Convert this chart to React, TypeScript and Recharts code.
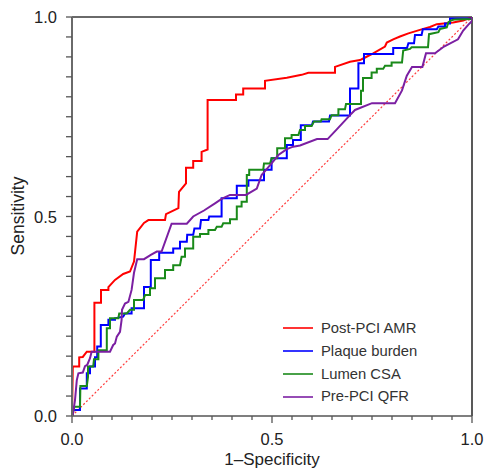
import React from "react";
import { LineChart, Line, XAxis, YAxis, ReferenceLine } from "recharts";

const seriesNames = ["Post-PCI AMR", "Plaque burden", "Lumen CSA", "Pre-PCI QFR"];
const seriesColors = ["#ff0000", "#0000ff", "#1a8a1a", "#7b1fa2"];

const postPciAmr: [number, number][] = [
  [0, 0], [0.002, 0.124], [0.018, 0.124], [0.018, 0.147], [0.027, 0.148], [0.037, 0.161],
  [0.056, 0.161], [0.056, 0.284], [0.0725, 0.284], [0.0725, 0.316], [0.091, 0.316], [0.091, 0.323],
  [0.1075, 0.341], [0.128, 0.356], [0.145, 0.362], [0.155, 0.387], [0.163, 0.462], [0.18, 0.484],
  [0.191, 0.491], [0.2325, 0.491], [0.235, 0.506], [0.266, 0.521], [0.2675, 0.562], [0.285, 0.583],
  [0.285, 0.622], [0.303, 0.622], [0.303, 0.639], [0.324, 0.639], [0.324, 0.662], [0.339, 0.668],
  [0.339, 0.792], [0.41, 0.792], [0.41, 0.806], [0.428, 0.806], [0.428, 0.821], [0.4825, 0.821],
  [0.4825, 0.84], [0.537, 0.848], [0.574, 0.855], [0.591, 0.86], [0.6575, 0.86], [0.6575, 0.875],
  [0.695, 0.888], [0.72, 0.892], [0.728, 0.896], [0.753, 0.909], [0.7825, 0.926], [0.787, 0.936],
  [0.803, 0.944], [0.82, 0.951], [0.841, 0.959], [0.874, 0.969], [0.895, 0.975], [0.912, 0.982],
  [0.953, 0.986], [0.978, 0.991], [1, 1],
];

const plaqueBurden: [number, number][] = [
  [0, 0], [0.002, 0.015], [0.02, 0.015], [0.02, 0.069], [0.037, 0.069], [0.037, 0.107],
  [0.045, 0.107], [0.045, 0.124], [0.0575, 0.124], [0.0575, 0.147], [0.063, 0.147], [0.063, 0.174],
  [0.072, 0.174], [0.072, 0.228], [0.091, 0.228], [0.091, 0.241], [0.1075, 0.241], [0.1075, 0.245],
  [0.128, 0.249], [0.1325, 0.257], [0.149, 0.257], [0.149, 0.27], [0.18, 0.27], [0.18, 0.323],
  [0.197, 0.323], [0.197, 0.391], [0.218, 0.391], [0.218, 0.409], [0.253, 0.409], [0.253, 0.42],
  [0.27, 0.42], [0.27, 0.437], [0.287, 0.437], [0.288, 0.454], [0.303, 0.454], [0.306, 0.47],
  [0.32, 0.47], [0.3225, 0.491], [0.341, 0.491], [0.343, 0.5], [0.374, 0.5], [0.374, 0.546],
  [0.412, 0.546], [0.412, 0.577], [0.441, 0.577], [0.441, 0.591], [0.48, 0.591], [0.48, 0.617],
  [0.499, 0.617], [0.499, 0.646], [0.537, 0.646], [0.537, 0.679], [0.5525, 0.679], [0.5525, 0.692],
  [0.572, 0.692], [0.572, 0.729], [0.6, 0.729], [0.6025, 0.738], [0.6425, 0.738], [0.645, 0.753],
  [0.695, 0.753], [0.695, 0.821], [0.716, 0.821], [0.716, 0.884], [0.73, 0.884], [0.73, 0.907],
  [0.803, 0.907], [0.803, 0.922], [0.8375, 0.922], [0.841, 0.934], [0.855, 0.934], [0.8575, 0.955],
  [0.874, 0.955], [0.877, 0.969], [0.912, 0.969], [0.916, 0.976], [0.9325, 0.976], [0.9325, 0.984],
  [0.945, 0.984], [0.945, 0.996], [1, 0.996], [1, 1],
];

const lumenCsa: [number, number][] = [
  [0, 0], [0.002, 0.007], [0.006, 0.023], [0.02, 0.023], [0.021, 0.075], [0.037, 0.075],
  [0.04, 0.098], [0.04, 0.124], [0.053, 0.124], [0.055, 0.142], [0.066, 0.142], [0.066, 0.165],
  [0.087, 0.165], [0.087, 0.22], [0.095, 0.22], [0.095, 0.245], [0.116, 0.245], [0.118, 0.257],
  [0.137, 0.257], [0.145, 0.266], [0.155, 0.266], [0.155, 0.291], [0.178, 0.291], [0.1825, 0.303],
  [0.195, 0.303], [0.195, 0.32], [0.2075, 0.32], [0.2075, 0.345], [0.2325, 0.345], [0.2325, 0.366],
  [0.253, 0.366], [0.253, 0.378], [0.27, 0.378], [0.274, 0.399], [0.2825, 0.399], [0.2825, 0.42],
  [0.303, 0.42], [0.303, 0.449], [0.32, 0.449], [0.32, 0.456], [0.341, 0.456], [0.341, 0.466],
  [0.3575, 0.466], [0.362, 0.474], [0.374, 0.474], [0.378, 0.483], [0.395, 0.483], [0.395, 0.493],
  [0.412, 0.493], [0.412, 0.525], [0.424, 0.525], [0.424, 0.537], [0.437, 0.537], [0.437, 0.604],
  [0.443, 0.604], [0.443, 0.617], [0.478, 0.617], [0.48, 0.633], [0.495, 0.633], [0.499, 0.646],
  [0.513, 0.646], [0.513, 0.671], [0.5325, 0.671], [0.5325, 0.696], [0.549, 0.696], [0.549, 0.704],
  [0.566, 0.704], [0.57, 0.717], [0.5825, 0.717], [0.5825, 0.727], [0.599, 0.727], [0.605, 0.738],
  [0.622, 0.738], [0.624, 0.744], [0.645, 0.744], [0.649, 0.754], [0.666, 0.754], [0.666, 0.769],
  [0.6825, 0.769], [0.685, 0.782], [0.7225, 0.782], [0.7225, 0.815], [0.7275, 0.815], [0.7275, 0.847],
  [0.749, 0.847], [0.749, 0.861], [0.762, 0.861], [0.762, 0.87], [0.778, 0.87], [0.7825, 0.878],
  [0.799, 0.878], [0.799, 0.886], [0.825, 0.886], [0.828, 0.916], [0.845, 0.92], [0.849, 0.924],
  [0.89, 0.924], [0.8925, 0.957], [0.916, 0.962], [0.92, 0.97], [0.937, 0.974], [0.941, 0.987],
  [0.949, 0.992], [0.9575, 0.994], [1, 0.995], [1, 1],
];

const prePciQfr: [number, number][] = [
  [0, 0], [0.002, 0.003], [0.0075, 0.04], [0.012, 0.09], [0.016, 0.107], [0.027, 0.109],
  [0.0325, 0.125], [0.038, 0.128], [0.045, 0.145], [0.049, 0.161], [0.095, 0.161], [0.103, 0.178],
  [0.1075, 0.182], [0.112, 0.199], [0.12, 0.211], [0.124, 0.241], [0.125, 0.266], [0.1325, 0.282],
  [0.141, 0.286], [0.149, 0.316], [0.155, 0.359], [0.163, 0.393], [0.18, 0.393], [0.197, 0.404],
  [0.212, 0.412], [0.224, 0.412], [0.249, 0.482], [0.287, 0.482], [0.303, 0.5], [0.33, 0.515],
  [0.3575, 0.533], [0.374, 0.544], [0.395, 0.554], [0.435, 0.554], [0.462, 0.57], [0.474, 0.604],
  [0.499, 0.633], [0.516, 0.654], [0.537, 0.669], [0.553, 0.675], [0.57, 0.678], [0.6125, 0.694],
  [0.639, 0.694], [0.6625, 0.719], [0.695, 0.754], [0.7075, 0.767], [0.75, 0.784], [0.8075, 0.784],
  [0.825, 0.816], [0.837, 0.853], [0.85, 0.875], [0.876, 0.875], [0.885, 0.909], [0.9075, 0.909],
  [0.93, 0.926], [0.965, 0.944], [0.978, 0.966], [0.991, 0.981], [1, 0.99], [1, 1],
];

const chanceLine: [number, number][] = [[0, 0], [1, 1]];

const axisTicks = [
  0, 0.05, 0.1, 0.15, 0.2, 0.25, 0.3, 0.35, 0.4, 0.45, 0.5,
  0.55, 0.6, 0.65, 0.7, 0.75, 0.8, 0.85, 0.9, 0.95, 1,
];
const majorTicks = [0, 0.5, 1];
const tickLabels = ["0.0", "0.5", "1.0"];

const seriesValues = [postPciAmr, plaqueBurden, lumenCsa, prePciQfr];
const toRows = (pts: [number, number][]) => pts.map(([x, y]) => ({ x, y }));

const FONT = "'Liberation Sans', Arial, Helvetica, sans-serif";

const majorIndex = (v: number) => majorTicks.findIndex((m) => Math.abs(m - v) < 1e-6);

const XTick = (props: any) => {
  const { x, y, payload } = props;
  const idx = majorIndex(payload.value);
  const major = idx >= 0;
  return (
    <g>
      <line x1={x} x2={x} y1={y} y2={y + (major ? 7 : 4)} stroke="#555" strokeWidth={1.3} />
      {major && (
        <text x={x} y={y + 29} textAnchor="middle" fontSize={16.5} fill="#222" fontFamily={FONT}>
          {tickLabels[idx]}
        </text>
      )}
    </g>
  );
};

const YTick = (props: any) => {
  const { x, y, payload } = props;
  const idx = majorIndex(payload.value);
  const major = idx >= 0;
  return (
    <g>
      <line x1={x - 6} x2={x} y1={y} y2={y} stroke="#555" strokeWidth={1.3} />
      {major && (
        <text x={x - 15} y={y + 6} textAnchor="end" fontSize={16.5} fill="#222" fontFamily={FONT}>
          {tickLabels[idx]}
        </text>
      )}
    </g>
  );
};

export default function App() {
  return (
    <div style={{ position: "absolute", left: 0, top: 0, width: 484, height: 469, fontFamily: FONT }}>
      <style>{"html,body{overflow:hidden}"}</style>
      <LineChart width={484} height={469} margin={{ top: 17, right: 12, left: 0, bottom: 0 }}>
        <XAxis
          dataKey="x"
          type="number"
          domain={[0, 1]}
          ticks={axisTicks}
          interval={0}
          tickSize={0}
          tickMargin={0}
          tickLine={false}
          tick={<XTick />}
          height={53}
          axisLine={{ stroke: "#555", strokeWidth: 1.6 }}
          allowDataOverflow
          label={{
            content: () => (
              <text x={272} y={464.5} textAnchor="middle" fontSize={17} fill="#222" fontFamily={FONT}>
                1–Specificity
              </text>
            ),
          }}
        />
        <YAxis
          dataKey="y"
          type="number"
          domain={[0, 1]}
          ticks={axisTicks}
          interval={0}
          tickSize={0}
          tickMargin={0}
          tickLine={false}
          tick={<YTick />}
          width={72}
          axisLine={{ stroke: "#6a6a6a", strokeWidth: 2 }}
          allowDataOverflow
          label={{
            content: () => (
              <text
                x={18}
                y={216}
                dy="0.35em"
                textAnchor="middle"
                fontSize={17.5}
                fill="#222"
                fontFamily={FONT}
                transform="rotate(-90, 18, 216)"
              >
                Sensitivity
              </text>
            ),
          }}
        />
        <ReferenceLine y={1} stroke="#6a6a6a" strokeWidth={2} />
        <ReferenceLine x={1} stroke="#222" strokeWidth={1.5} />
        <Line
          data={toRows(chanceLine)}
          dataKey="y"
          type="linear"
          stroke="#ff3b3b"
          strokeWidth={1.2}
          strokeDasharray="2 2"
          dot={false}
          isAnimationActive={false}
          legendType="none"
        />
        {seriesValues.map((pts, i) => (
          <Line
            key={seriesNames[i]}
            name={seriesNames[i]}
            data={toRows(pts)}
            dataKey="y"
            type="linear"
            stroke={seriesColors[i]}
            strokeWidth={2}
            dot={false}
            activeDot={false}
            isAnimationActive={false}
          />
        ))}
      </LineChart>
      <div style={{ position: "absolute", left: 283, top: 317 }}>
        {seriesNames.map((n, i) => (
          <div key={n} style={{ display: "flex", alignItems: "center", height: 22.8 }}>
            <svg width={38} height={10} style={{ display: "block" }}>
              <line x1={0} x2={30} y1={5} y2={5} stroke={seriesColors[i]} strokeWidth={1.6} />
            </svg>
            <span style={{ fontSize: 14.8, color: "#333", lineHeight: "22.8px", whiteSpace: "nowrap" }}>{n}</span>
          </div>
        ))}
      </div>
    </div>
  );
}
